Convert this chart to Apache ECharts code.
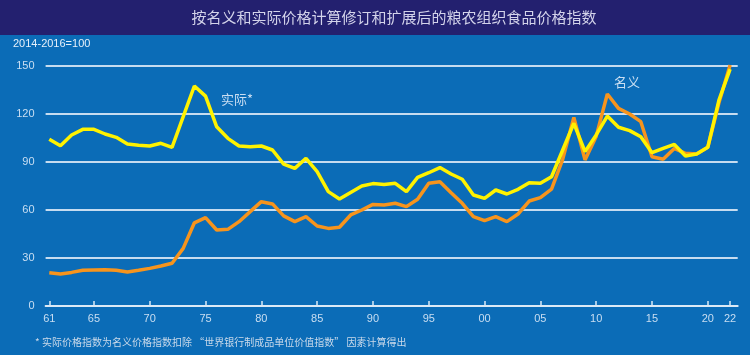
<!DOCTYPE html>
<html><head><meta charset="utf-8">
<script src="https://cdn.jsdelivr.net/npm/echarts@6/dist/echarts.min.js"></script>
<style>html,body{margin:0;padding:0;background:#0b6cb7}#c{width:750px;height:355px}</style>
</head><body><div id="c"></div>
<script>
var years = [1961,1962,1963,1964,1965,1966,1967,1968,1969,1970,1971,1972,1973,1974,1975,1976,1977,1978,1979,1980,1981,1982,1983,1984,1985,1986,1987,1988,1989,1990,1991,1992,1993,1994,1995,1996,1997,1998,1999,2000,2001,2002,2003,2004,2005,2006,2007,2008,2009,2010,2011,2012,2013,2014,2015,2016,2017,2018,2019,2020,2021,2022];
var realIndex = [104.2,100.2,106.9,110.4,110.4,107.5,105.4,101.3,100.4,100,101.7,99.2,118.3,137.5,131.2,112,104.8,100,99.6,100,97.5,88.7,86,92.3,84,71.5,66.9,71,75,76.5,76,76.7,71.5,80.4,83.3,86.5,82.5,79.2,69.4,67.3,72.5,70,72.9,77.1,76.7,80.8,97.5,114.2,96.5,106.9,118.7,111.7,109.6,105.8,95.8,98.5,101,93.7,95,99.2,128.7,148];
var nominalIndex = [20.8,20,21,22.3,22.5,22.7,22.3,21.3,22.3,23.5,25,26.7,36,52,55.2,47.5,47.9,52.7,59,65.2,63.8,56.3,52.7,55.8,50,48.5,49.2,56.9,60,63.5,63.1,64.2,62.1,66.7,76.7,77.7,70.8,64.2,55.8,53.3,55.8,52.7,57.5,65.6,67.7,73,91.7,117.9,91.3,106,132.5,123.5,120,115.2,93.3,91.7,98.5,95.4,95,99.2,127,150.6];
var xTicks = [1961,1965,1970,1975,1980,1985,1990,1995,2000,2005,2010,2015,2020,2022];
var yTicks = [0,30,60,90,120,150];
var titleText = '按名义和实际价格计算修订和扩展后的粮农组织食品价格指数';
var unitText = '2014-2016=100';
var noteText = '* 实际价格指数为名义价格指数扣除 “世界银行制成品单位价值指数” 因素计算得出';
var realLabel = '实际*';
var nominalLabel = '名义';

function pairs(v){ return years.map(function(y,i){ return [y, v[i]]; }); }
var lightText = '#c9def2';
var chart = echarts.init(document.getElementById('c'));
chart.setOption({
  backgroundColor: '#0b6cb7',
  animation: false,
  grid: {left: 45.6, right: 12.3, top: 66, bottom: 49},
  xAxis: {
    type: 'value', min: 1960.67, max: 2022.68,
    axisLine: {show: true, lineStyle: {color: '#dbe9f6', width: 2}},
    axisTick: {show: true, inside: true, length: 5, customValues: xTicks, lineStyle: {color: '#dbe9f6', width: 1.5}},
    axisLabel: {customValues: xTicks, color: lightText, fontFamily: 'Liberation Sans Narrow, Liberation Sans, sans-serif', fontSize: 11, margin: 7,
      formatter: function(v){ return String(v).slice(2); }},
    splitLine: {show: false}
  },
  yAxis: {
    type: 'value', min: 0, max: 150, interval: 30,
    axisLine: {show: false}, axisTick: {show: false},
    axisLabel: {color: lightText, fontFamily: 'Liberation Sans Narrow, Liberation Sans, sans-serif', fontSize: 11, margin: 11},
    splitLine: {show: true, lineStyle: {color: '#c6dcf0', width: 2}}
  },
  series: [
    {type: 'line', name: nominalLabel, data: pairs(nominalIndex), showSymbol: false, symbol: 'none',
      lineStyle: {color: '#f7941d', width: 3.5}, z: 3},
    {type: 'line', name: realLabel, data: pairs(realIndex), showSymbol: false, symbol: 'none',
      lineStyle: {color: '#fff200', width: 3.5}, z: 4}
  ],
  graphic: [
    {type: 'rect', shape: {x: 0, y: 0, width: 750, height: 35}, style: {fill: '#23206f'}, z: 0},
    {type: 'text', x: 394, y: 17, style: {text: titleText, fill: '#d3d3ea', font: '15px "Noto Sans CJK SC"', align: 'center', verticalAlign: 'middle'}},
    {type: 'text', x: 13, y: 44, style: {text: unitText, fill: '#e6f0fa', font: '11px "Liberation Sans Narrow", "Liberation Sans"', align: 'left', verticalAlign: 'middle'}},
    {type: 'text', x: 221, y: 99, style: {text: realLabel, fill: lightText, font: '13px "Noto Sans CJK SC"', align: 'left', verticalAlign: 'middle'}},
    {type: 'text', x: 614, y: 82, style: {text: nominalLabel, fill: lightText, font: '13px "Noto Sans CJK SC"', align: 'left', verticalAlign: 'middle'}},
    {type: 'text', x: 35, y: 342, style: {text: noteText, fill: '#c9d9ea', font: '10px "Noto Sans CJK SC"', align: 'left', verticalAlign: 'middle'}}
  ]
});
</script></body></html>
